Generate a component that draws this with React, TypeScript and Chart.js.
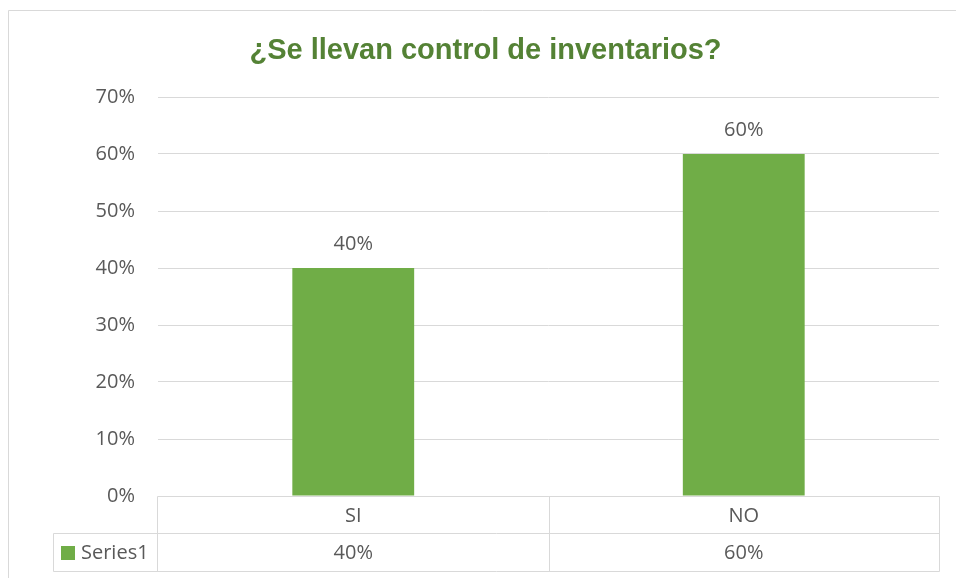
import React, { useEffect, useRef } from "react";
import { Chart, registerables } from "chart.js";

Chart.register(...registerables);

const categories = ["SI", "NO"];
const values = [0.4, 0.6];
const seriesName = "Series1";
const titleText = "¿Se llevan control de inventarios?";
const yTicks = [0, 0.1, 0.2, 0.3, 0.4, 0.5, 0.6, 0.7];

const pct = (v: number) => `${Math.round(v * 100)}%`;

export default function App() {
  const ref = useRef<HTMLCanvasElement | null>(null);

  useEffect(() => {
    if (!ref.current) return;
    const textFont = '20px "Open Sans"';
    const textColor = "#595959";
    const lineColor = "#d9d9d9";

    const decor = {
      id: "decor",
      beforeDraw(chart: any) {
        const ctx = chart.ctx;
        ctx.save();
        ctx.fillStyle = "#ffffff";
        ctx.fillRect(0, 0, chart.width, chart.height);
        ctx.strokeStyle = lineColor;
        ctx.lineWidth = 1;
        ctx.beginPath();
        ctx.moveTo(8.5, chart.height);
        ctx.lineTo(8.5, 10.5);
        ctx.lineTo(chart.width, 10.5);
        ctx.stroke();
        // title
        ctx.fillStyle = "#548235";
        ctx.font = 'bold 29px "Liberation Sans", Arial, sans-serif';
        ctx.textAlign = "center";
        ctx.textBaseline = "alphabetic";
        ctx.fillText(titleText, 485.5, 59);
        ctx.restore();
      },
      afterDatasetsDraw(chart: any) {
        const ctx = chart.ctx;
        const meta = chart.getDatasetMeta(0);
        ctx.save();
        ctx.font = textFont;
        ctx.fillStyle = textColor;
        ctx.textAlign = "center";
        ctx.textBaseline = "alphabetic";
        meta.data.forEach((bar: any, i: number) => {
          ctx.fillText(pct(values[i]), bar.x, bar.y - 18);
        });
        ctx.restore();
      },
      afterDraw(chart: any) {
        const ctx = chart.ctx;
        const xs = chart.scales.x;
        const area = chart.chartArea;
        const top = Math.round(area.bottom) + 0.5;
        const mid = top + 37;
        const bot = mid + 38;
        const legLeft = 53.5;
        const left = Math.round(area.left) - 0.5;
        const right = Math.round(area.right) + 0.5;
        const centers = categories.map((_, i) => xs.getPixelForValue(i));
        const bounds: number[] = [left];
        for (let i = 0; i < centers.length - 1; i++) {
          bounds.push(Math.round((centers[i] + centers[i + 1]) / 2) + 0.5);
        }
        bounds.push(right);

        ctx.save();
        ctx.strokeStyle = lineColor;
        ctx.lineWidth = 1;
        ctx.beginPath();
        ctx.moveTo(left, top);
        ctx.lineTo(right, top);
        ctx.moveTo(legLeft, mid);
        ctx.lineTo(right, mid);
        ctx.moveTo(legLeft, bot);
        ctx.lineTo(right, bot);
        ctx.moveTo(legLeft, mid);
        ctx.lineTo(legLeft, bot);
        bounds.forEach((b) => {
          ctx.moveTo(b, top);
          ctx.lineTo(b, bot);
        });
        ctx.stroke();

        ctx.font = textFont;
        ctx.fillStyle = textColor;
        ctx.textAlign = "center";
        ctx.textBaseline = "middle";
        centers.forEach((cx: number, i: number) => {
          ctx.fillText(categories[i], cx, (top + mid) / 2 + 1);
          ctx.fillText(pct(values[i]), cx, (mid + bot) / 2 + 1);
        });
        ctx.fillStyle = "#70ad47";
        ctx.fillRect(61, 546, 14, 14);
        ctx.fillStyle = textColor;
        ctx.textAlign = "left";
        ctx.fillText(seriesName, 81, (mid + bot) / 2 + 1);
        ctx.restore();
      },
    };

    const chart = new Chart(ref.current, {
      type: "bar",
      data: {
        labels: categories,
        datasets: [
          {
            label: seriesName,
            data: values,
            backgroundColor: "#70ad47",
            borderWidth: 0,
            barPercentage: 0.312,
            categoryPercentage: 1.0,
          },
        ],
      },
      options: {
        responsive: false,
        animation: false,
        devicePixelRatio: 1,
        layout: { padding: { left: 0, top: 97, right: 17, bottom: 82 } },
        plugins: {
          legend: { display: false },
          title: { display: false },
          tooltip: { enabled: false },
        },
        scales: {
          x: { display: false },
          y: {
            min: 0,
            max: 0.7,
            afterFit(scale: any) {
              scale.width = 158;
            },
            afterBuildTicks(scale: any) {
              scale.ticks = yTicks.map((v) => ({ value: v }));
            },
            border: { display: false },
            grid: { color: lineColor, drawTicks: false, lineWidth: 1 },
            ticks: {
              padding: 23,
              color: textColor,
              font: { family: "Open Sans", size: 20 },
              callback: (v: any) => pct(Number(v)),
            },
          },
        },
      },
      plugins: [decor],
    });
    return () => chart.destroy();
  }, []);

  return (
    <div style={{ position: "absolute", left: 0, top: 0, width: 956, height: 578 }}>
      <canvas ref={ref} width={956} height={578} style={{ width: 956, height: 578 }} />
    </div>
  );
}
